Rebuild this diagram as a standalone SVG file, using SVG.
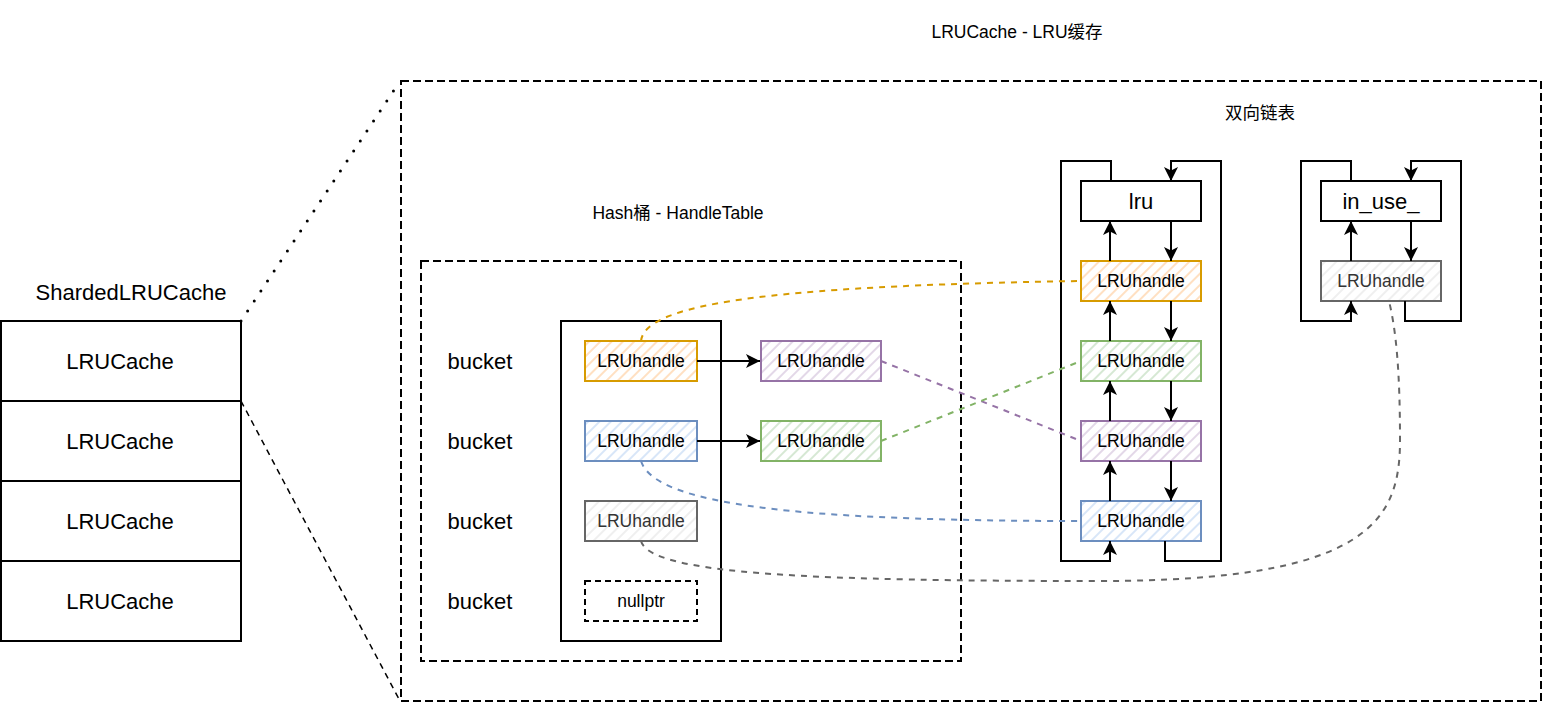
<svg xmlns="http://www.w3.org/2000/svg" width="1542" height="704" viewBox="0 0 1542 704">
<style>
text{font-family:"Liberation Sans","Noto Sans CJK SC",sans-serif;fill:#000;text-anchor:middle;dominant-baseline:central}
.t16{font-size:17.5px}
.t20{font-size:22px}
.box{fill:#fff;stroke:#000;stroke-width:2}
.frame{fill:none;stroke:#000;stroke-width:2;stroke-dasharray:8 4}
.ln{fill:none;stroke:#000;stroke-width:2}
.dc{fill:none;stroke-width:2;stroke-dasharray:6 6}
</style>
<defs>
<marker id="arr" viewBox="0 0 14 14" refX="14" refY="7" markerWidth="14" markerHeight="14" markerUnits="userSpaceOnUse" orient="auto">
<path d="M0,0 L14,7 L0,14 L3.5,7 z" fill="#000"/>
</marker>
<pattern id="hO" patternUnits="userSpaceOnUse" width="8" height="8" patternTransform="rotate(45)"><rect width="8" height="8" fill="#fff"/><line x1="2" y1="0" x2="2" y2="8" stroke="#ffd9b3" stroke-width="1.6"/></pattern>
<pattern id="hB" patternUnits="userSpaceOnUse" width="8" height="8" patternTransform="rotate(45)"><rect width="8" height="8" fill="#fff"/><line x1="2" y1="0" x2="2" y2="8" stroke="#cfe0f7" stroke-width="1.6"/></pattern>
<pattern id="hG" patternUnits="userSpaceOnUse" width="8" height="8" patternTransform="rotate(45)"><rect width="8" height="8" fill="#fff"/><line x1="2" y1="0" x2="2" y2="8" stroke="#cce3c9" stroke-width="1.6"/></pattern>
<pattern id="hP" patternUnits="userSpaceOnUse" width="8" height="8" patternTransform="rotate(45)"><rect width="8" height="8" fill="#fff"/><line x1="2" y1="0" x2="2" y2="8" stroke="#dccfe3" stroke-width="1.6"/></pattern>
<pattern id="hY" patternUnits="userSpaceOnUse" width="8" height="8" patternTransform="rotate(45)"><rect width="8" height="8" fill="#fff"/><line x1="2" y1="0" x2="2" y2="8" stroke="#ececec" stroke-width="1.6"/></pattern>
</defs>
<rect width="1542" height="704" fill="#fff"/>

<g id="lrucache-frame">
<rect class="frame" x="401" y="81" width="1140" height="620"/>
<text class="t16" x="1017" y="32">LRUCache - LRU缓存</text>
<text class="t16" x="1260" y="113">双向链表</text>
</g>
<g id="handletable-frame">
<rect class="frame" x="421" y="261" width="540" height="400"/>
<text class="t16" x="678" y="213">Hash桶 - HandleTable</text>
</g>

<g id="sharded">
<text class="t20" x="131" y="292">ShardedLRUCache</text>
</g>
<g id="shard1"><rect class="box" x="1" y="321" width="240" height="80"/><text class="t20" x="120" y="361">LRUCache</text></g>
<g id="shard2"><rect class="box" x="1" y="401" width="240" height="80"/><text class="t20" x="120" y="441">LRUCache</text></g>
<g id="shard3"><rect class="box" x="1" y="481" width="240" height="80"/><text class="t20" x="120" y="521">LRUCache</text></g>
<g id="shard4"><rect class="box" x="1" y="561" width="240" height="80"/><text class="t20" x="120" y="601">LRUCache</text></g>

<g id="bucket-labels">
<text class="t20" x="480" y="361">bucket</text>
<text class="t20" x="480" y="441">bucket</text>
<text class="t20" x="480" y="521">bucket</text>
<text class="t20" x="480" y="601">bucket</text>
</g>
<g id="bucket-array"><rect class="box" x="561" y="321" width="160" height="320"/></g>

<g id="h-orange"><rect x="585" y="341" width="112" height="40" fill="url(#hO)" stroke="#d79b00" stroke-width="2"/><text class="t16" x="641" y="361">LRUhandle</text></g>
<g id="h-purple"><rect x="761" y="341" width="120" height="40" fill="url(#hP)" stroke="#9673a6" stroke-width="2"/><text class="t16" x="821" y="361">LRUhandle</text></g>
<g id="h-blue"><rect x="585" y="421" width="112" height="40" fill="url(#hB)" stroke="#6c8ebf" stroke-width="2"/><text class="t16" x="641" y="441">LRUhandle</text></g>
<g id="h-green"><rect x="761" y="421" width="120" height="40" fill="url(#hG)" stroke="#82b366" stroke-width="2"/><text class="t16" x="821" y="441">LRUhandle</text></g>
<g id="h-gray"><rect x="585" y="501" width="112" height="40" fill="url(#hY)" stroke="#666666" stroke-width="2"/><text class="t16" x="641" y="521" style="fill:#333">LRUhandle</text></g>
<g id="nullptr"><rect x="585" y="581" width="112" height="40" fill="#fff" stroke="#000" stroke-width="2" stroke-dasharray="6 4"/><text class="t16" x="641" y="601">nullptr</text></g>

<g id="lru"><rect class="box" x="1081" y="181" width="120" height="40"/><text class="t20" x="1141" y="201">lru</text></g>
<g id="l-orange"><rect x="1081" y="261" width="120" height="40" fill="url(#hO)" stroke="#d79b00" stroke-width="2"/><text class="t16" x="1141" y="281">LRUhandle</text></g>
<g id="l-green"><rect x="1081" y="341" width="120" height="40" fill="url(#hG)" stroke="#82b366" stroke-width="2"/><text class="t16" x="1141" y="361">LRUhandle</text></g>
<g id="l-purple"><rect x="1081" y="421" width="120" height="40" fill="url(#hP)" stroke="#9673a6" stroke-width="2"/><text class="t16" x="1141" y="441">LRUhandle</text></g>
<g id="l-blue"><rect x="1081" y="501" width="120" height="40" fill="url(#hB)" stroke="#6c8ebf" stroke-width="2"/><text class="t16" x="1141" y="521">LRUhandle</text></g>

<g id="in-use"><rect class="box" x="1321" y="181" width="120" height="40"/><text class="t20" x="1381" y="201">in_use_</text></g>
<g id="u-gray"><rect x="1321" y="261" width="120" height="40" fill="url(#hY)" stroke="#666666" stroke-width="2"/><text class="t16" x="1381" y="281" style="fill:#333">LRUhandle</text></g>

<g id="connectors">
<line x1="241" y1="321" x2="400" y2="81" stroke="#000" stroke-width="3" stroke-dasharray="0 12" stroke-linecap="round"/>
<line x1="241" y1="401" x2="400" y2="701" stroke="#000" stroke-width="1.5" stroke-dasharray="6 5"/>

<line class="ln" x1="697" y1="361" x2="760" y2="361" marker-end="url(#arr)"/>
<line class="ln" x1="697" y1="441" x2="760" y2="441" marker-end="url(#arr)"/>

<line class="ln" x1="1110" y1="261" x2="1110" y2="221" marker-end="url(#arr)"/>
<line class="ln" x1="1171" y1="221" x2="1171" y2="261" marker-end="url(#arr)"/>
<line class="ln" x1="1110" y1="341" x2="1110" y2="301" marker-end="url(#arr)"/>
<line class="ln" x1="1171" y1="301" x2="1171" y2="341" marker-end="url(#arr)"/>
<line class="ln" x1="1110" y1="421" x2="1110" y2="381" marker-end="url(#arr)"/>
<line class="ln" x1="1171" y1="381" x2="1171" y2="421" marker-end="url(#arr)"/>
<line class="ln" x1="1110" y1="501" x2="1110" y2="461" marker-end="url(#arr)"/>
<line class="ln" x1="1171" y1="461" x2="1171" y2="501" marker-end="url(#arr)"/>
<path class="ln" d="M1111 181 L1111 161 L1061 161 L1061 561 L1110 561 L1110 541" marker-end="url(#arr)"/>
<path class="ln" d="M1165 541 L1165 561 L1221 561 L1221 161 L1171 161 L1171 181" marker-end="url(#arr)"/>

<line class="ln" x1="1351" y1="261" x2="1351" y2="221" marker-end="url(#arr)"/>
<line class="ln" x1="1411" y1="221" x2="1411" y2="261" marker-end="url(#arr)"/>
<path class="ln" d="M1351 181 L1351 161 L1301 161 L1301 321 L1351 321 L1351 301" marker-end="url(#arr)"/>
<path class="ln" d="M1405 301 L1405 321 L1461 321 L1461 161 L1411 161 L1411 181" marker-end="url(#arr)"/>

<path class="dc" stroke="#d79b00" d="M641 341 C 645 305, 760 286, 1081 281"/>
<path class="dc" stroke="#9673a6" d="M881 361 L1081 441"/>
<path class="dc" stroke="#82b366" d="M881 441 L1081 361"/>
<path class="dc" stroke="#6c8ebf" d="M641 461 C 655 505, 800 521, 1081 521"/>
<path class="dc" stroke="#666666" d="M641 541 C 650 575, 820 581, 1100 581 C 1370 581, 1400 520, 1400 440 C 1400 370, 1396 330, 1389 301"/>
</g>
</svg>
